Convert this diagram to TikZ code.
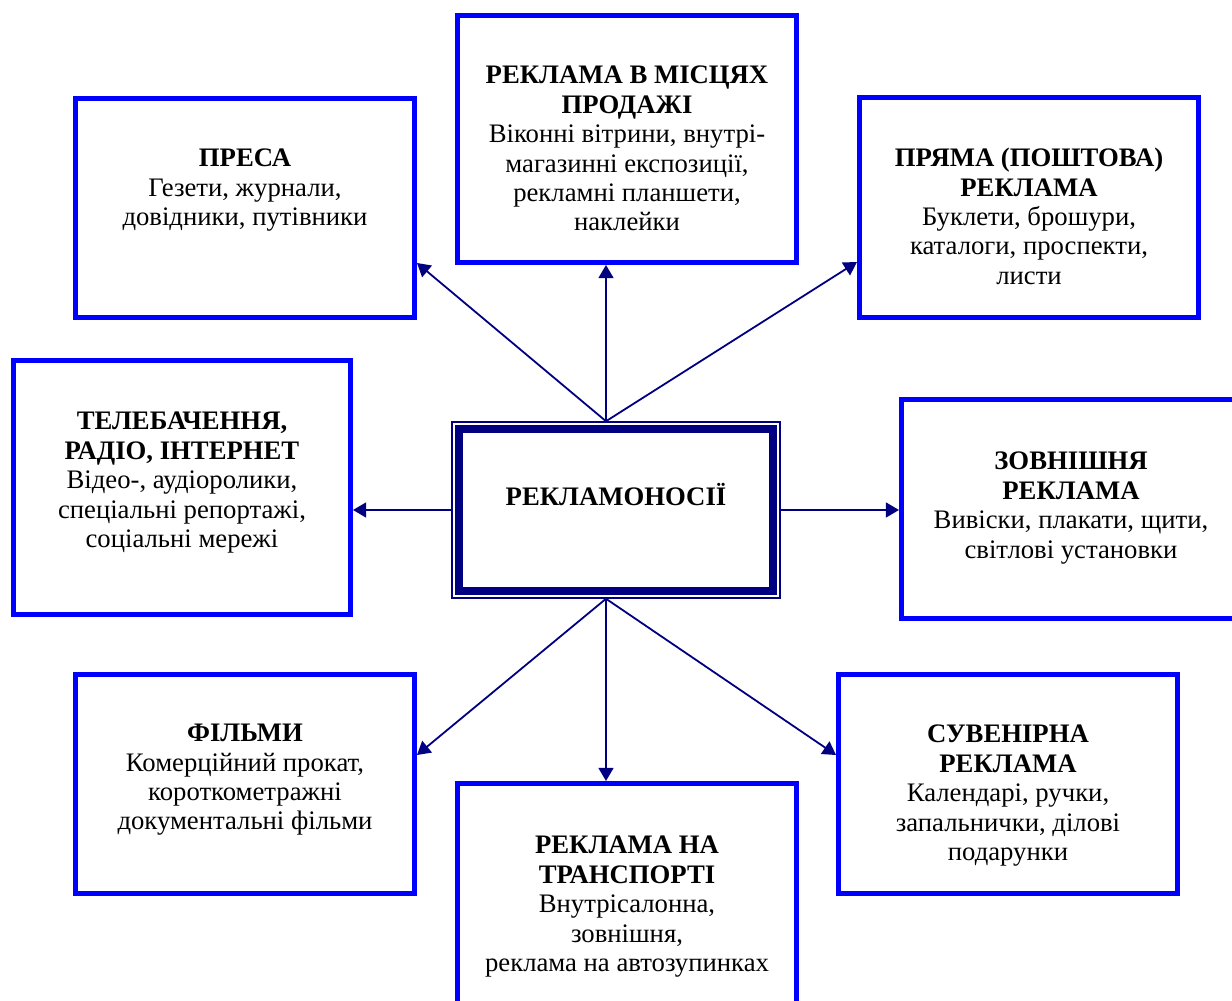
\documentclass[tikz,border=0pt]{standalone}
\usepackage{fontspec}
\setmainfont{Liberation Serif}
\usetikzlibrary{positioning,arrows.meta}
\definecolor{navyline}{RGB}{0,0,128}
\definecolor{boxblue}{RGB}{0,0,255}

\begin{document}
\begin{tikzpicture}[x=1.0in,y=1.0in,>={Triangle[length=9.5pt,width=10.8pt]},
		adbox/.style={draw=boxblue, line width=3.6pt, minimum width=3.39in, minimum height=2.19in, inner sep=0pt},
		adtext/.style={align=center, inner sep=0pt, font=\fontsize{19.3}{21.24}\selectfont},
		feed/.style={draw=navyline, line width=1.3pt, ->}]
		\useasboundingbox (0,0) rectangle (12.32,10.01);

		% centre
		\node (hub) [draw=navyline, line width=1.1pt, minimum width=3.28in, minimum height=1.76in, inner sep=0pt] at (6.16,4.91) {};
		\draw[navyline, line width=5.8pt] ([shift={(0.082,-0.082)}]hub.north west) rectangle ([shift={(-0.082,0.082)}]hub.south east);
		\node (hublabel) [adtext, anchor=base] at ([yshift=0.04in]hub.center) {\textbf{РЕКЛАМОНОСІЇ}};
		\coordinate (hubn) at ([xshift=-0.1in]hub.north);
		\coordinate (hubs) at ([xshift=-0.1in]hub.south);

		% boxes
		\node (press) [adbox] at (2.45,7.93) {};
		\node (sale) [adbox, minimum height=2.47in] at (6.27,8.62) {};
		\node (direct) [adbox, minimum height=2.20in] at (10.29,7.935) {};
		\node (tv) [adbox, minimum width=3.37in, minimum height=2.54in] at (1.82,5.135) {};
		\node (outdoor) [adbox] at (10.71,4.92) {};
		\node (film) [adbox] at (2.45,2.17) {};
		\node (souvenir) [adbox] at (10.08,2.17) {};
		\node (transport) [adbox, minimum height=2.20in] at (6.27,1.075) {};

		\node (presst) [adtext, below=0.53in of press.north] {\textbf{ПРЕСА}\\Гезети, журнали,\\довідники, путівники};
		\node (salet) [adtext, below=0.53in of sale.north] {\textbf{РЕКЛАМА В МІСЦЯХ}\\\textbf{ПРОДАЖІ}\\Віконні вітрини, внутрі-\\магазинні експозиції,\\рекламні планшети,\\наклейки};
		\node (directt) [adtext, below=0.53in of direct.north] {\textbf{ПРЯМА (ПОШТОВА)}\\\textbf{РЕКЛАМА}\\Буклети, брошури,\\каталоги, проспекти,\\листи};
		\node (tvt) [adtext, below=0.54in of tv.north] {\textbf{ТЕЛЕБАЧЕННЯ,}\\\textbf{РАДІО, ІНТЕРНЕТ}\\Відео-, аудіоролики,\\спеціальні репортажі,\\соціальні мережі};
		\node (outdoort) [adtext, below=0.55in of outdoor.north] {\textbf{ЗОВНІШНЯ}\\\textbf{РЕКЛАМА}\\Вивіски, плакати, щити,\\світлові установки};
		\node (filmt) [adtext, below=0.52in of film.north] {\textbf{ФІЛЬМИ}\\Комерційний прокат,\\короткометражні\\документальні фільми};
		\node (souvenirt) [adtext, below=0.53in of souvenir.north] {\textbf{СУВЕНІРНА}\\\textbf{РЕКЛАМА}\\Календарі, ручки,\\запальнички, ділові\\подарунки};
		\node (transportt) [adtext, below=0.55in of transport.north] {\textbf{РЕКЛАМА НА}\\\textbf{ТРАНСПОРТІ}\\Внутрісалонна,\\зовнішня,\\реклама на автозупинках};

		% arrows
		\draw[feed] (hubn) -- ([yshift=0.57in]press.south east);
		\draw[feed] (hubn) -- ([xshift=-0.21in]sale.south);
		\draw[feed] (hubn) -- ([yshift=0.58in]direct.south west);
		\draw[feed] (hub.west) -- (hub.west -| tv.east);
		\draw[feed] (hub.east) -- (hub.east -| outdoor.west);
		\draw[feed] (hubs) -- ([yshift=-0.83in]film.north east);
		\draw[feed] (hubs) -- ([xshift=-0.21in]transport.north);
		\draw[feed] (hubs) -- ([yshift=-0.83in]souvenir.north west);
\end{tikzpicture}
\end{document}
